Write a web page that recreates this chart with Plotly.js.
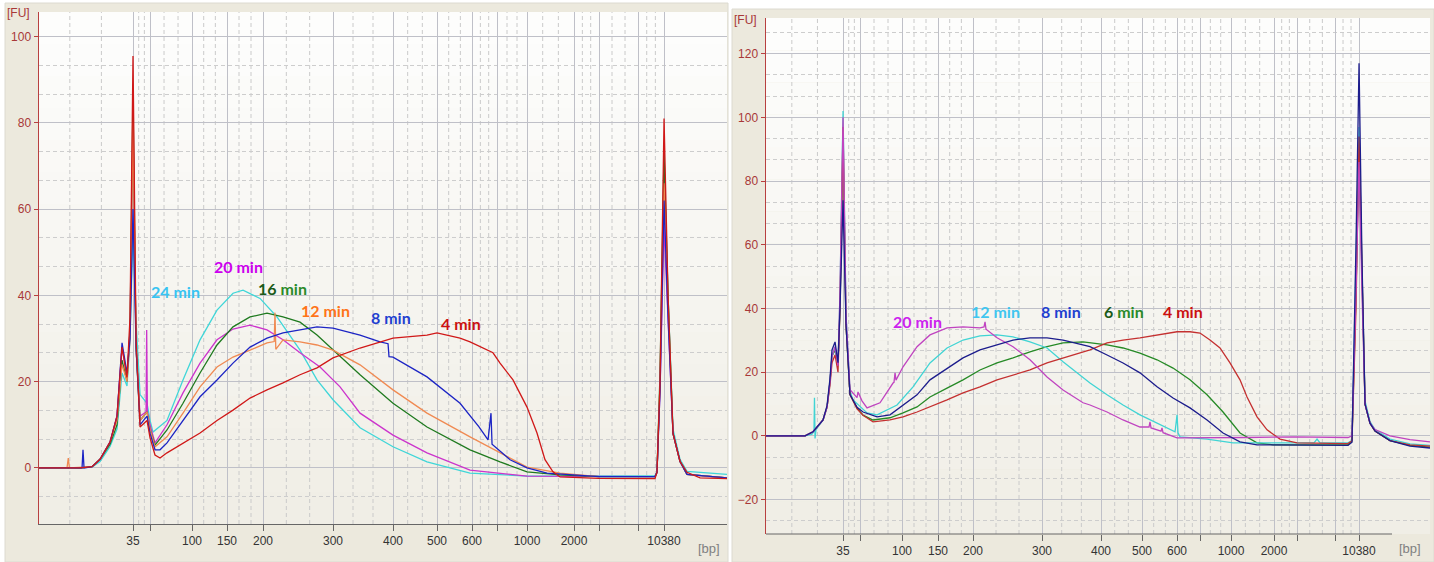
<!DOCTYPE html>
<html>
<head>
<meta charset="utf-8">
<script src="https://cdn.plot.ly/plotly-3.0.1.min.js"></script>
<style>
  html, body { margin: 0; padding: 0; background: #ffffff; }
  #chart { width: 1434px; height: 562px; }
</style>
</head>
<body>
<div id="chart"></div>
<script>
// ---------------- DATA ----------------
// Ladder sizes (bp) and their migration times (s) in the two runs
const LADDER_BP = [35, 50, 100, 150, 200, 300, 400, 500, 600, 700, 1000, 2000, 3000, 7000, 10380];
const LADDER_LABELS = ['35', '', '100', '150', '200', '300', '400', '500', '600', '', '1000', '2000', '', '', '10380'];
const LADDER_TIME_A = [51.75, 53.88, 59.13, 63.5, 68.0, 76.75, 84.25, 89.75, 94.13, 97.25, 101.0, 106.88, 110.0, 114.88, 118.13];
const LADDER_TIME_B = [49.63, 51.75, 57.0, 61.5, 65.88, 74.5, 81.88, 87.0, 91.38, 94.25, 98.13, 103.5, 106.38, 111.13, 114.13];

// Run A (left panel): [time s, FU]
const A_24min = [[40,0],[45.13,0],[46.63,0.2],[47.63,1.5],[48.88,5],[49.75,9],[50.38,22],[51.0,19],[51.38,30],[51.75,55],[52.13,34],[52.63,17],[53.5,15],[53.88,11],[54.25,8.3],[56.0,11],[58.0,20.4],[60.13,29.7],[62.25,36.6],[64.25,40.5],[65.5,41.2],[67.63,39.3],[69.75,35],[72.63,27.3],[74.75,20.4],[76.75,15.8],[80.13,9.3],[84.25,4.9],[88.5,1.4],[93.88,-1.2],[101,-1.9],[110,-1.8],[117,-1.8],[117.25,-1],[117.63,20],[118.13,70],[118.63,40],[119.25,9],[120.13,2],[121,-0.8],[126,-1.5]];
const A_20min = [[40,0],[45.13,0],[46.63,0.3],[47.63,2],[48.88,6],[49.75,12],[50.38,28],[51.0,21],[51.38,32],[51.75,80],[52.13,28],[52.63,12],[53.38,13],[53.46,32],[53.55,13],[53.88,10],[54.5,5.8],[56.0,10],[58.0,17.4],[60.13,24.3],[62.25,29.7],[64.25,32.2],[66.38,33.1],[68.5,32],[70.5,29.7],[72.63,26.7],[75.13,23.4],[77.63,18.8],[80.13,12.7],[84.25,7.6],[88.5,3.5],[93.88,-0.5],[101,-1.9],[110,-2.0],[117,-2.0],[117.25,-1],[117.63,18],[118.13,56],[118.63,36],[119.25,8],[120.13,1.5],[121,-1.5],[126,-2.3]];
const A_16min = [[40,0],[45.13,0],[46.63,0.3],[47.63,2],[48.88,5.5],[49.75,10],[50.38,25],[51.0,20],[51.38,32],[51.75,86],[52.13,28],[52.63,11],[53.5,13],[53.88,9],[54.5,5.3],[56.0,8.8],[58.0,15],[60.13,22],[62.25,28.5],[64.25,32.7],[66.38,35],[68.5,35.9],[70.5,35],[72.63,33.8],[74.75,30.8],[76.75,27.3],[80.13,21.6],[84.25,15],[88.5,9.5],[93.88,4.2],[97.63,1.4],[101.0,-0.9],[105.13,-1.6],[110,-2],[117,-2.0],[117.25,-1],[117.63,22],[118.13,73],[118.63,40],[119.25,8],[120.13,1.5],[121,-1.5],[126,-2.3]];
const A_12min = [[40,0],[43.5,0],[43.66,2.3],[43.8,0],[46.63,0.3],[47.63,2],[48.88,6],[49.75,11],[50.38,24],[51.0,20],[51.38,30],[51.75,80],[52.13,28],[52.63,11],[53.5,13],[53.88,9],[54.5,4.9],[56.0,7.2],[58.0,12.7],[60.13,18.8],[62.25,23.4],[64.25,25.7],[66.38,27.3],[68.5,29.0],[69.4,29.3],[69.5,36],[69.6,27.5],[70.5,29.7],[72.63,29.2],[74.75,28.5],[76.75,27.3],[80.13,23.9],[84.25,18.1],[88.5,12.7],[93.88,7.2],[97.63,3.5],[101.0,0.2],[105.13,-1.2],[110,-2.0],[117,-2.0],[117.25,-1],[117.63,20],[118.13,66],[118.63,38],[119.25,8],[120.13,1.5],[121,-1.5],[126,-2.3]];
const A_8min = [[40,0],[45.38,0],[45.5,4.2],[45.63,0],[46.63,0.3],[47.63,2],[48.88,6],[49.75,12],[50.38,29],[51.0,22],[51.38,30],[51.75,60],[52.13,28],[52.63,10],[53.5,12],[53.88,8],[54.5,4.2],[55.13,4.2],[56.0,5.8],[58.0,11],[60.13,16.5],[62.25,20.4],[64.25,24.3],[66.38,28],[68.5,30.1],[70.5,31.3],[72.63,32],[74.75,32.7],[76.75,32.4],[80.13,30.8],[82.63,29.2],[83.63,28.8],[83.75,25.8],[84.25,25.7],[88.5,21.1],[92.63,15],[95.0,9.5],[96.13,6.5],[96.5,12.7],[96.63,5.5],[98.88,1.9],[101,0],[103.5,-1.2],[110,-2.0],[117.0,-2.0],[117.25,-1],[117.63,18],[118.13,62],[118.63,35],[119.25,8],[120.13,1.5],[121.0,-1.5],[126,-2.3]];
const A_4min = [[40,0],[45.13,0],[46.63,0.3],[47.63,2],[48.88,6],[49.75,12],[50.38,28],[51.0,21],[51.38,35],[51.75,95.5],[52.13,30],[52.63,9.5],[53.5,11],[53.88,7],[54.5,3],[55.13,2.3],[56.0,3.5],[58.0,5.8],[60.13,8.1],[62.25,11],[64.25,13.4],[66.38,16.2],[68.5,18.1],[70.5,19.7],[72.63,21.6],[74.75,23.2],[76.75,25.5],[80.13,27.8],[84.25,30.1],[88.5,30.8],[89.75,31.3],[92.63,30.1],[93.88,29.2],[96.75,26.7],[97.63,24.3],[99.25,20.4],[101.0,14.1],[102.25,8.1],[103.25,1.9],[104.25,-0.9],[105.13,-2.1],[110,-2.4],[117.0,-2.5],[117.25,-1],[117.63,20],[118.13,81],[118.63,40],[119.25,8],[120.13,1.5],[121.0,-1],[122.63,-2.3],[126,-2.5]];

// Run B (right panel): [time s, FU]
const B_20min = [[40,0],[44.88,0],[45.88,1.3],[47.13,5],[47.63,9],[48.0,17],[48.25,25],[48.63,28],[49.0,22],[49.25,45],[49.63,100],[50.0,38],[50.5,14.5],[51.38,12],[51.5,13.8],[52.0,11],[52.63,8.8],[54.25,10.4],[55.88,16.6],[56.0,16.8],[56.13,19.8],[56.25,17.5],[57.13,21.7],[58.88,28],[60.5,31.7],[62.63,33.9],[64.63,34.2],[66.75,33.9],[67.25,34.2],[67.38,35.8],[67.5,33.5],[68.88,30.8],[70.88,28],[73.0,23.9],[75.13,18.5],[77.13,14.4],[79.63,10.4],[80.5,9.7],[82.63,7.5],[84.63,5],[86.75,2.8],[87.88,2.8],[88.0,4.4],[88.13,2.5],[89.38,1.5],[89.5,2.5],[89.63,1],[91.38,-0.6],[100,-0.5],[106,-0.3],[112.75,-0.5],[113.25,0],[113.75,45],[114.13,86],[114.5,45],[114.88,10],[115.5,4],[116.13,2],[118,0],[120.5,-1.2],[123,-1.9]];
const B_12min = [[40,0],[44.88,0],[45.75,0.5],[46.0,1.5],[46.06,12],[46.13,-0.8],[46.25,2],[47.13,5],[47.63,9],[48.0,17],[48.25,25],[48.63,28],[49.0,22],[49.25,45],[49.63,102],[50.0,38],[50.5,14],[50.88,11.3],[52.63,7.2],[53.88,6.6],[56.38,9.7],[58.38,15.4],[60.5,22.9],[62.63,27.6],[64.63,30.1],[66.75,31.4],[68.88,31.7],[70.88,31.1],[73.0,29.5],[75.13,27.6],[77.13,23.3],[80.5,16.6],[82.63,12.9],[84.63,9.7],[86.75,6.6],[88.88,4.1],[91.13,1.3],[91.38,6.6],[91.5,1.0],[91.75,-0.3],[95.13,-1],[98.38,-2.2],[108.5,-2.2],[108.88,-1],[109.25,-2.2],[112.75,-2.2],[113.25,-1.5],[113.75,55],[114.13,97],[114.5,52],[114.88,11],[115.5,4.5],[116.13,2],[118,-1],[120.5,-2.5],[123,-3]];
const B_8min = [[40,0],[44.88,0],[45.88,1.3],[47.13,5],[47.63,9.5],[48.0,18],[48.25,27],[48.63,29.5],[49.0,23],[49.25,40],[49.63,74],[50.0,35],[50.5,13],[51.38,9],[52.13,7.5],[53.88,6],[55.5,6.6],[57.13,9.7],[58.88,12.9],[60.5,17.6],[62.63,21.3],[64.63,24.5],[66.75,27],[68.88,28.6],[70.88,30.1],[73.0,30.8],[75.13,30.8],[77.13,30.1],[79.63,28.6],[80.5,28],[82.63,25.4],[84.63,22.9],[86.75,19.8],[88.88,15.4],[90.88,11.9],[93.0,8.8],[95.13,5],[97.13,0.9],[99.25,-1.9],[101.38,-2.8],[112.75,-3],[113.25,-2],[113.75,60],[114.13,117],[114.5,55],[114.88,10],[115.5,4],[116.13,1.5],[118.0,-1.5],[120.5,-3.2],[123,-3.8]];
const B_6min = [[40,0],[44.88,0],[45.88,1.3],[47.13,5],[47.63,9],[48.0,17],[48.25,25],[48.63,27],[49.0,22],[49.25,40],[49.63,90],[50.0,35],[50.5,13],[51.38,8.8],[52.13,6.5],[53.38,5],[55.5,5.7],[57.13,7.2],[58.88,9.1],[60.5,12.2],[62.63,15],[64.63,17.6],[66.75,20.7],[68.88,22.9],[70.88,24.5],[73.0,26.4],[75.13,28],[77.13,29.2],[79.63,29.5],[82.63,28.6],[84.63,27.6],[86.75,26],[88.88,23.9],[90.88,21.3],[93.0,17.6],[95.13,12.9],[97.13,7.5],[99.25,0.9],[101.38,-2.2],[103.38,-2.8],[112.75,-2.8],[113.25,-1.5],[113.75,45],[114.13,90],[114.5,50],[114.88,10],[115.5,4],[116.13,1.5],[118.0,-1.5],[120.5,-3],[123,-3.5]];
const B_4min = [[40,0],[44.88,0],[45.88,1.3],[47.13,5],[47.63,9],[48.0,16],[48.25,23],[48.63,25.4],[49.0,20],[49.25,40],[49.63,97],[50.0,35],[50.5,13],[51.38,8.5],[52.13,6.5],[53.38,4.4],[55.5,5],[57.13,6],[58.88,7.5],[60.5,9.1],[62.63,11.3],[64.63,13.5],[66.75,15.4],[68.88,17.6],[70.88,19.2],[73.0,20.7],[75.13,22.9],[77.13,24.5],[79.63,26.4],[80.5,27],[82.63,29.2],[84.63,30.1],[86.75,30.8],[88.88,31.7],[91.38,32.7],[93.0,32.7],[94.25,32.3],[95.5,30.1],[96.75,27.6],[98.0,22.9],[99.25,17.6],[100.13,12.2],[101.38,6],[102.63,1.9],[104.25,-1],[106.38,-2.2],[112.75,-2.4],[113.25,-1.5],[113.75,40],[114.13,94],[114.5,50],[114.88,10],[115.5,4],[116.13,1.5],[118.0,-1.5],[120.5,-2.8],[123,-3.2]];

const Y_TICKS_A = [0, 20, 40, 60, 80, 100];
const Y_TICKS_B = [-20, 0, 20, 40, 60, 80, 100, 120];

// ---------------- STYLE / LAYOUT ----------------
const W = 1434, H = 562;
const px = v => v / W;          // pixel -> paper x
const py = v => 1 - v / H;      // pixel -> paper y

const seriesA = [
  {pts: A_24min, color: '#3fd6d8'},
  {pts: A_20min, color: '#cc33cc'},
  {pts: A_16min, color: '#1f7a1f'},
  {pts: A_12min, color: '#f08a52'},
  {pts: A_8min,  color: '#1c24c4'},
  {pts: A_4min,  color: '#d01818'}
];
const seriesB = [
  {pts: B_6min,  color: '#268a26'},
  {pts: B_12min, color: '#40d4d4'},
  {pts: B_4min,  color: '#c43030'},
  {pts: B_20min, color: '#c044c0'},
  {pts: B_8min,  color: '#1c1c8c'}
];

const traces = [];
seriesA.forEach(s => traces.push({
  x: s.pts.map(p => p[0]), y: s.pts.map(p => p[1]), xaxis: 'x', yaxis: 'y',
  mode: 'lines', line: {color: s.color, width: 1.3}, hoverinfo: 'skip', showlegend: false
}));
seriesB.forEach(s => traces.push({
  x: s.pts.map(p => p[0]), y: s.pts.map(p => p[1]), xaxis: 'x2', yaxis: 'y2',
  mode: 'lines', line: {color: s.color, width: 1.3}, hoverinfo: 'skip', showlegend: false
}));

const shapes = [];
// outer panel backgrounds
shapes.push({type: 'rect', xref: 'paper', yref: 'paper', x0: px(5), x1: px(728), y0: py(562), y1: py(3),
  fillcolor: '#ece9dd', line: {color: '#dcdad0', width: 1}, layer: 'below'});
shapes.push({type: 'rect', xref: 'paper', yref: 'paper', x0: px(732), x1: px(1434), y0: py(562), y1: py(9),
  fillcolor: '#ece9dd', line: {color: '#dcdad0', width: 1}, layer: 'below'});
// plot area gradient (vertical bands)
function gradient(x0, x1, y0, y1) {
  const n = 16, c0 = [253, 253, 252], c1 = [240, 238, 230];
  for (let i = 0; i < n; i++) {
    const f = i / (n - 1);
    const c = c0.map((v, k) => Math.round(v + (c1[k] - v) * f));
    const ya = y0 + (y1 - y0) * i / n, yb = y0 + (y1 - y0) * (i + 1) / n;
    shapes.push({type: 'rect', xref: 'paper', yref: 'paper', x0: px(x0), x1: px(x1), y0: py(yb), y1: py(ya),
      fillcolor: `rgb(${c[0]},${c[1]},${c[2]})`, line: {width: 0}, layer: 'below'});
  }
}
gradient(39, 727, 12, 524);
gradient(766, 1430, 18, 534);

// dashed vertical minor grid: thirds between ladder peaks, plus two before the 35 bp marker
function minorVert(times, xr, yr, before) {
  const vals = [times[0] - 2 * before, times[0] - before];
  for (let i = 0; i < times.length - 1; i++) {
    const d = (times[i + 1] - times[i]) / 3;
    vals.push(times[i] + d, times[i] + 2 * d);
  }
  vals.forEach(v => shapes.push({type: 'line', xref: xr, yref: yr + ' domain', x0: v, x1: v, y0: 0, y1: 1,
    line: {color: '#cacaca', width: 1, dash: '4px,3px'}, layer: 'below'}));
}
minorVert(LADDER_TIME_A, 'x', 'y', 3.95);
minorVert(LADDER_TIME_B, 'x2', 'y2', 3.2);

// right panel x-axis line (stops short of the plot edge)
shapes.push({type: 'line', xref: 'x2 domain', yref: 'y2 domain', x0: 0, x1: (1392 - 766) / 664, y0: 0, y1: 0,
  line: {color: '#666666', width: 1}});

const tickFont = {family: '"Liberation Sans", Arial, sans-serif', size: 12, color: '#333333'};
const yTickFont = {family: '"Liberation Sans", Arial, sans-serif', size: 12, color: '#a83838'};
const majorGrid = '#bfc0c8';

function xAxis(domain, range, times, showline) {
  return {domain, range, tickmode: 'array', tickvals: times, ticktext: LADDER_LABELS,
    showgrid: true, gridcolor: majorGrid, gridwidth: 1, zeroline: false,
    showline, linecolor: '#666666', linewidth: 1, ticks: 'outside', ticklen: 6, tickcolor: '#666666',
    tickfont: tickFont, fixedrange: true, mirror: false};
}
function yAxis(domain, range, ticks, anchor) {
  return {domain, range, tickmode: 'array', tickvals: ticks, anchor,
    showgrid: true, gridcolor: majorGrid, gridwidth: 1, zeroline: false,
    minor: {tick0: 0, dtick: 20 / 3, showgrid: true, gridcolor: '#cdcdcd', gridwidth: 1, griddash: '4px,3px', ticks: ''},
    showline: true, linecolor: '#b84040', linewidth: 1.5, ticks: 'outside', ticklen: 4, tickcolor: '#b84040',
    tickfont: yTickFont, fixedrange: true};
}

const labelFont = {family: 'Lato, "Open Sans", sans-serif', size: 16};
function lab(text, x, y, xr, yr, color) {
  return {text: '<b>' + text + '</b>', x, y, xref: xr, yref: yr, showarrow: false,
    font: Object.assign({}, labelFont, {color}), xanchor: 'center', yanchor: 'middle'};
}

const annotations = [
  lab('24 min', 57.0, 41.0, 'x', 'y', '#38c4f2'),
  lab('20 min', 64.88, 46.8, 'x', 'y', '#cc00ee'),
  lab('<span style="color:#1a5a1a">16</span> min', 70.38, 41.7, 'x', 'y', '#2a8a2a'),
  lab('12 min', 75.75, 36.4, 'x', 'y', '#ff7418'),
  lab('8 min', 84.0, 34.8, 'x', 'y', '#1f3fd0'),
  lab('4 min', 92.75, 33.4, 'x', 'y', '#cc1111'),
  lab('20 min', 58.88, 35.8, 'x2', 'y2', '#cc22ee'),
  lab('12 min', 68.63, 39.2, 'x2', 'y2', '#40c6f0'),
  lab('8 min', 76.88, 39.2, 'x2', 'y2', '#1f3fd0'),
  lab('<span style="color:#1a5a1a">6</span> min', 84.75, 38.9, 'x2', 'y2', '#2a8a2a'),
  lab('4 min', 92.13, 39.2, 'x2', 'y2', '#cc1111'),
  {text: '[FU]', x: px(18), y: py(13), xref: 'paper', yref: 'paper', showarrow: false,
    font: {family: '"Liberation Sans", Arial, sans-serif', size: 12, color: '#a83838'}, xanchor: 'center', yanchor: 'middle'},
  {text: '[FU]', x: px(745), y: py(20), xref: 'paper', yref: 'paper', showarrow: false,
    font: {family: '"Liberation Sans", Arial, sans-serif', size: 12, color: '#a83838'}, xanchor: 'center', yanchor: 'middle'},
  {text: '[bp]', x: px(709), y: py(548), xref: 'paper', yref: 'paper', showarrow: false,
    font: {family: '"Liberation Sans", Arial, sans-serif', size: 13, color: '#808080'}, xanchor: 'center', yanchor: 'middle'},
  {text: '[bp]', x: px(1410), y: py(548), xref: 'paper', yref: 'paper', showarrow: false,
    font: {family: '"Liberation Sans", Arial, sans-serif', size: 13, color: '#808080'}, xanchor: 'center', yanchor: 'middle'}
];

const layout = {
  width: W, height: H,
  margin: {l: 0, r: 0, t: 0, b: 0, pad: 0},
  paper_bgcolor: '#ffffff', plot_bgcolor: 'rgba(0,0,0,0)',
  showlegend: false, hovermode: false,
  xaxis: Object.assign(xAxis([px(39), px(727)], [40, 126], LADDER_TIME_A, true), {anchor: 'y'}),
  yaxis: yAxis([py(524), py(12)], [-13, 105.7], Y_TICKS_A, 'x'),
  xaxis2: Object.assign(xAxis([px(766), px(1430)], [40, 123], LADDER_TIME_B, false), {anchor: 'y2'}),
  yaxis2: yAxis([py(534), py(18)], [-30.8, 131.2], Y_TICKS_B, 'x2'),
  shapes, annotations
};

Plotly.newPlot('chart', traces, layout, {staticPlot: true, displayModeBar: false});
</script>
</body>
</html>
